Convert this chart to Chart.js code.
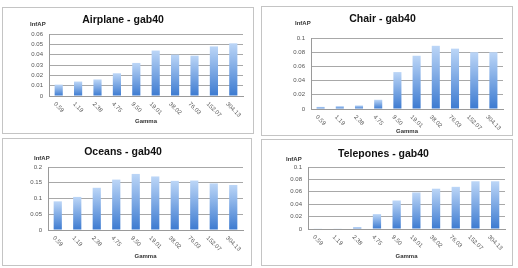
<!DOCTYPE html>
<html lang="en">
<head>
<meta charset="UTF-8">
<title>InfAP vs Gamma - gab40</title>
<script src="https://cdn.jsdelivr.net/npm/chart.js@4/dist/chart.umd.min.js"></script>
<style>
    html, body { margin: 0; padding: 0; background: #fff; }
    body { width: 518px; height: 268px; position: relative; overflow: hidden; font-family: "Liberation Sans", Arial, sans-serif; }
    .panel { position: absolute; border: 1px solid #c4c4c4; background: #fff; box-sizing: border-box; }
    .panel canvas { position: absolute; left: 0; top: 0; }
    .ylab { position: absolute; font-size: 6px; font-weight: bold; color: #333; white-space: nowrap; }
</style>
</head>
<body>
<div class="panel" id="p1"><canvas id="c1"></canvas></div>
<div class="panel" id="p2"><canvas id="c2"></canvas></div>
<div class="panel" id="p3"><canvas id="c3"></canvas></div>
<div class="panel" id="p4"><canvas id="c4"></canvas></div>

<script>
// values
const gammaLabels = ["0.59", "1.19", "2.38", "4.75", "9.50", "19.01", "38.02", "76.03", "152.07", "304.13"];
const airplaneAP  = [0.011, 0.014, 0.016, 0.022, 0.032, 0.044, 0.040, 0.039, 0.048, 0.051];
const chairAP     = [0.003, 0.004, 0.005, 0.013, 0.052, 0.075, 0.089, 0.085, 0.080, 0.080];
const oceansAP    = [0.091, 0.105, 0.134, 0.160, 0.178, 0.170, 0.156, 0.157, 0.148, 0.143];
const teleponesAP = [0.001, 0.001, 0.003, 0.024, 0.046, 0.059, 0.065, 0.068, 0.077, 0.077];

const titles = ["Airplane - gab40", "Chair - gab40", "Oceans - gab40", "Telepones - gab40"];
const yMax   = [0.06, 0.1, 0.2, 0.1];
const yStep  = [0.01, 0.02, 0.05, 0.02];
const yLabel = "InfAP";
const xLabel = "Gamma";

// page layout (page coords)
const panels = [
    { id: 1, box: [2, 7, 252, 127],   plot: [49, 243, 34, 96],    titleY: 20,  gammaY: 121, infap: [30, 21] },
    { id: 2, box: [261, 6, 252, 130], plot: [311, 503, 38, 109],  titleY: 19,  gammaY: 131, infap: [295, 20] },
    { id: 3, box: [2, 138, 250, 128], plot: [48, 243, 167, 230],  titleY: 152, gammaY: 256, infap: [34, 155] },
    { id: 4, box: [261, 139, 252, 127], plot: [308, 505, 167, 229], titleY: 154, gammaY: 256, infap: [286, 156] },
];
const seriesList = [airplaneAP, chairAP, oceansAP, teleponesAP];

const titleFont = { family: "'Liberation Sans', Arial, sans-serif", size: 10.5, weight: 'bold', lineHeight: 1.2 };
const smallFont = { family: "'Liberation Sans', Arial, sans-serif", size: 6, lineHeight: 1.2 };

// x labels slope down to the right, like the Excel original
const slantLabels = {
    id: 'slantLabels',
    afterDraw(chart) {
        const xs = chart.scales.x;
        const c = chart.ctx;
        c.save();
        c.font = "6px 'Liberation Sans', Arial, sans-serif";
        c.fillStyle = '#555';
        c.textAlign = 'center';
        c.textBaseline = 'middle';
        chart.data.labels.forEach((lab, i) => {
            const w = c.measureText(lab).width;
            const ext = (w + 6) * 0.7071;
            const x = xs.getPixelForValue(i);
            const y = xs.top + 5 + ext / 2;
            c.save();
            c.translate(x, y);
            c.rotate(Math.PI / 4);
            c.fillText(lab, 0, 0);
            c.restore();
        });
        c.restore();
    }
};

function barGradient(context) {
    const chart = context.chart;
    const area = chart.chartArea;
    if (!area) return '#6f9ee0';
    const ys = chart.scales.y;
    const v = context.parsed ? context.parsed.y : context.raw;
    const top = ys.getPixelForValue(v);
    const bottom = ys.getPixelForValue(0);
    const g = chart.ctx.createLinearGradient(0, top, 0, Math.max(bottom, top + 1));
    g.addColorStop(0, '#bcd6f7');
    g.addColorStop(1, '#3c7ad0');
    return g;
}

panels.forEach((p, k) => {
    const [bx, by, bw, bh] = p.box;
    const div = document.getElementById('p' + p.id);
    div.style.left = bx + 'px';
    div.style.top = by + 'px';
    div.style.width = bw + 'px';
    div.style.height = bh + 'px';

    const cx = bx + 1, cy = by + 1;
    const W = bw - 2, H = bh - 2;
    const canvas = document.getElementById('c' + p.id);
    canvas.width = W;
    canvas.height = H;

    const lab = document.createElement('div');
    lab.className = 'ylab';
    lab.textContent = yLabel;
    lab.style.left = (p.infap[0] - bx - 1) + 'px';
    lab.style.top = (p.infap[1] - by - 1) + 'px';
    div.appendChild(lab);

    const [pl, pr, pt, pb] = p.plot;
    const yWidth = pl - cx;
    const padRight = (cx + W) - pr;
    const plotTop = pt - cy;
    const titleLH = titleFont.size * titleFont.lineHeight;
    const tPadTop = (p.titleY - cy) - titleLH / 2;
    const tPadBottom = plotTop - tPadTop - titleLH;
    const xHeight = H - (pb - cy);
    const gammaPad = (H - (p.gammaY - cy)) - smallFont.size * smallFont.lineHeight / 2;

    new Chart(canvas, {
        type: 'bar',
        data: {
            labels: gammaLabels,
            datasets: [{
                data: seriesList[k],
                backgroundColor: barGradient,
                borderWidth: 0,
                barPercentage: 0.42,
                categoryPercentage: 1,
            }]
        },
        options: {
            responsive: false,
            animation: false,
            devicePixelRatio: 1,
            layout: { padding: { left: 0, right: padRight, top: 0, bottom: 0 } },
            plugins: {
                legend: { display: false },
                tooltip: { enabled: false },
                title: {
                    display: true,
                    text: titles[k],
                    color: '#111',
                    font: titleFont,
                    padding: { top: tPadTop, bottom: tPadBottom },
                },
            },
            scales: {
                x: {
                    grid: { display: false, drawTicks: false },
                    border: { display: true, color: '#9a9a9a', width: 1 },
                    ticks: { display: false },
                    title: {
                        display: true,
                        text: xLabel,
                        color: '#333',
                        font: Object.assign({}, smallFont, { weight: 'bold' }),
                        padding: { top: 0, bottom: gammaPad },
                    },
                    afterFit: (s) => { s.height = xHeight; },
                },
                y: {
                    min: 0,
                    max: yMax[k],
                    grid: { color: '#a8a8a8', lineWidth: 1, drawTicks: false },
                    border: { display: true, color: '#9a9a9a', width: 1 },
                    ticks: {
                        stepSize: yStep[k],
                        padding: 6,
                        color: '#555',
                        font: smallFont,
                        callback: (v) => String(Number(v.toFixed(3))),
                    },
                    afterFit: (s) => { s.width = yWidth; },
                },
            },
        },
        plugins: [slantLabels],
    });
});
</script>
</body>
</html>
